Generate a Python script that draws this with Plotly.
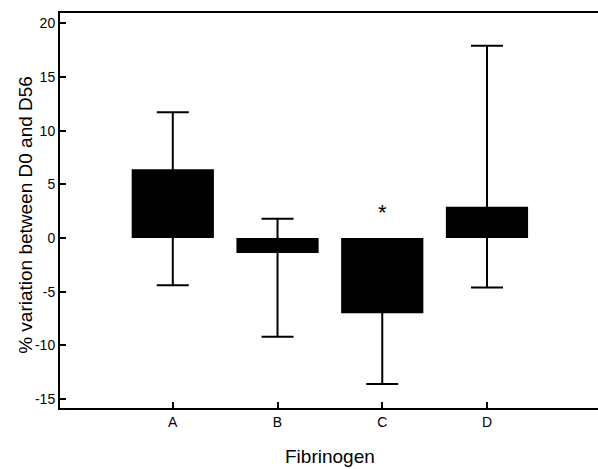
import plotly.graph_objects as go

categories = ["A", "B", "C", "D"]
bar_values = [6.4, -1.4, -7.0, 2.9]
whisker_max = [11.7, 1.8, -3.5, 17.9]
whisker_min = [-4.4, -9.2, -13.6, -4.6]
y_ticks = [-15, -10, -5, 0, 5, 10, 15, 20]
y_tick_labels = [str(v) for v in y_ticks]

err_plus = [mx - v for mx, v in zip(whisker_max, bar_values)]
err_minus = [v - mn for mn, v in zip(whisker_min, bar_values)]

xpos = list(range(len(categories)))

fig = go.Figure()
fig.add_trace(go.Bar(
    x=xpos, y=bar_values, width=0.785,
    marker=dict(color="black", line=dict(width=0)),
    error_y=dict(type="data", symmetric=False, array=err_plus, arrayminus=err_minus,
                 color="black", thickness=2, width=16),
    showlegend=False, hoverinfo="skip",
))

fig.add_annotation(x=2, y=2.4, text="*", showarrow=False,
                   font=dict(size=22, color="black", family="Liberation Sans"))

# axis titles as annotations for exact placement
fig.add_annotation(xref="paper", yref="paper", x=0, y=0.489, xshift=-34,
                   xanchor="center", yanchor="middle", textangle=-90,
                   text="% variation between D0 and D56", showarrow=False,
                   font=dict(size=19, color="black"))
fig.add_annotation(xref="paper", yref="paper", x=0.502, y=0, yshift=-48,
                   xanchor="center", yanchor="middle",
                   text="Fibrinogen", showarrow=False,
                   font=dict(size=19, color="black"))

fig.update_layout(
    width=598, height=469,
    margin=dict(l=60, r=0, t=13, b=61, autoexpand=False),
    paper_bgcolor="white", plot_bgcolor="white",
    font=dict(family="Liberation Sans, Arial, sans-serif", color="black", size=14),
    xaxis=dict(
        range=[-1.077, 4.06], tickmode="array", tickvals=xpos, ticktext=categories,
        showline=True, linecolor="black", linewidth=2, mirror=True,
        ticks="inside", ticklen=6, tickwidth=2, tickcolor="black",
        showgrid=False, zeroline=False, automargin=False,
    ),
    yaxis=dict(
        range=[-15.83, 20.95], tickmode="array", tickvals=y_ticks, ticktext=y_tick_labels,
        showline=True, linecolor="black", linewidth=2,
        ticks="inside", ticklen=6, tickwidth=2, tickcolor="black",
        showgrid=False, zeroline=False, automargin=False,
    ),
)

fig.write_html("out.html", config={"displayModeBar": False},
               post_script="document.body.style.margin='0px';document.body.style.padding='0px';")
